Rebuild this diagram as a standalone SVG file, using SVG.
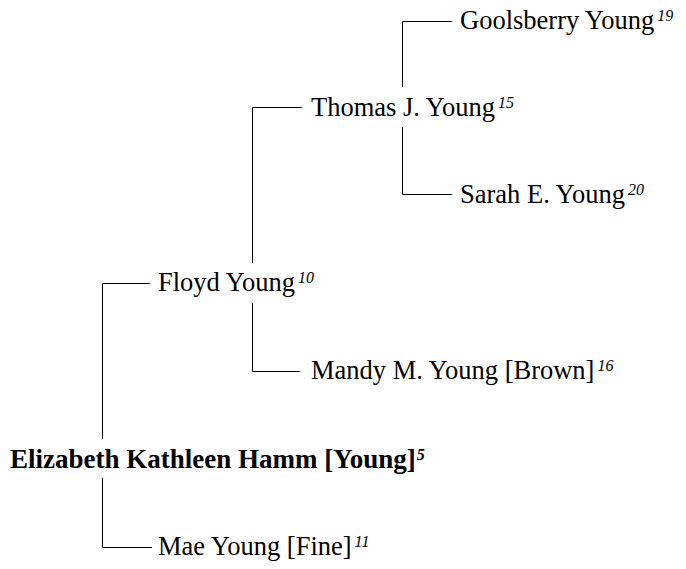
<svg xmlns="http://www.w3.org/2000/svg" width="686" height="569" viewBox="0 0 686 569">
<style>
text{font-family:"Liberation Serif","Times New Roman",serif;font-size:26.5px;fill:#000}
.b{font-weight:bold;font-size:27px}
.sup{font-style:italic;font-size:16px}
.conn path{fill:none;stroke:#000;stroke-width:1}
</style>
<rect width="686" height="569" fill="#fff"/>
<g id="connectors" class="conn">
<path d="M452,21.5 H402.5 V87"/>
<path d="M402.5,127 V194.5 H452"/>
<path d="M302,107.5 H252.5 V263"/>
<path d="M252.5,303 V371.5 H300"/>
<path d="M150,283.5 H102.5 V439"/>
<path d="M102.5,478 V547.5 H152"/>
</g>
<g id="goolsberry"><text x="460" y="29">Goolsberry Young<tspan class="sup" dx="3" dy="-8">19</tspan></text></g>
<g id="thomas"><text x="311" y="115.5">Thomas J. Young<tspan class="sup" dx="3" dy="-8">15</tspan></text></g>
<g id="sarah"><text x="460" y="202.5">Sarah E. Young<tspan class="sup" dx="3" dy="-8">20</tspan></text></g>
<g id="floyd"><text x="158" y="291">Floyd Young<tspan class="sup" dx="3" dy="-8">10</tspan></text></g>
<g id="mandy"><text x="311" y="379">Mandy M. Young [Brown]<tspan class="sup" dx="3" dy="-8">16</tspan></text></g>
<g id="elizabeth"><text class="b" x="10" y="468">Elizabeth Kathleen Hamm [Young]<tspan class="sup" dx="1" dy="-8">5</tspan></text></g>
<g id="mae"><text x="158" y="555">Mae Young [Fine]<tspan class="sup" dx="3" dy="-8">11</tspan></text></g>
</svg>
